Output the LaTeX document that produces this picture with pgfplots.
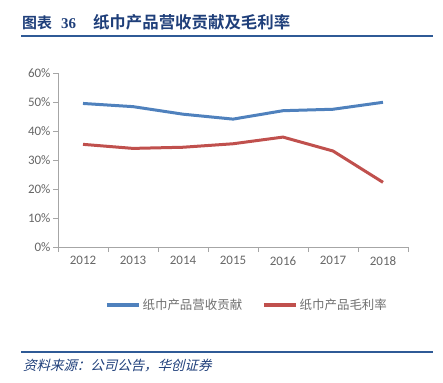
\documentclass[border=0pt]{standalone}
\usepackage{fontspec}
\setmainfont{Carlito}
\newfontfamily\cjk{Noto Sans CJK SC}
\newfontfamily\cjkb{Noto Sans CJK SC Bold}
\newfontfamily\cjkit[FakeSlant=0.25]{Noto Sans CJK SC}
\newfontfamily\serifb{Liberation Serif}
\usepackage{pgfplots}
\pgfplotsset{compat=1.18}
\definecolor{sblue}{HTML}{4F81BD}
\definecolor{sred}{HTML}{C0504D}
\definecolor{titleblue}{HTML}{1F3F7A}
\definecolor{lineblue}{HTML}{2F5A96}
\definecolor{tickgray}{HTML}{666666}
\definecolor{leggray}{HTML}{707070}
\definecolor{axgray}{HTML}{A6A6A6}
\begin{document}
\begin{tikzpicture}[x=1bp,y=1bp]
\path[use as bounding box] (0,0) rectangle (443,382);
\draw[lineblue, line width=1.6bp] (21,346) -- (433,346);
\draw[lineblue, line width=1.6bp] (21,30) -- (433,30);
\node[anchor=west, inner sep=0pt, text=titleblue] at (22,360)
  {\fontsize{15}{15}\selectfont\cjkb 图表\hspace{9bp}{\serifb\bfseries 36}\hspace{17bp}\fontsize{16.5}{16}\selectfont 纸巾产品营收贡献及毛利率};
\node[anchor=west, inner sep=0pt, text=titleblue] at (23,16)
  {\fontsize{13.5}{14}\selectfont\cjkit 资料来源：公司公告，华创证券};
\begin{axis}[
  at={(58bp,135bp)}, anchor=south west,
  width=350bp, height=174bp, scale only axis,
  xmin=-0.5, xmax=6.5, ymin=0, ymax=60,
  axis x line*=bottom, axis y line*=left,
  axis line style={axgray, line width=0.8bp, -},
  xtick={0,...,6},
  xticklabels={2012,2013,2014,2015,2016,2017,2018},
  major x tick style={draw=none},
  minor xtick={-0.5,0.5,...,6.5},
  minor x tick style={axgray, line width=0.8bp},
  minor tick length=5bp,
  ytick={0,10,...,60},
  y tick style={axgray, line width=0.8bp},
  major tick length=5bp,
  tick align=outside,
  yticklabel={\pgfmathprintnumber{\tick}\%},
  /pgf/number format/assume math mode=true,
  ticklabel style={font=\fontsize{13}{13}\selectfont, text=tickgray},
  xticklabel style={yshift=-1bp},
  yticklabel style={xshift=1bp},
  legend style={draw=none, at={(0.54,-0.333)}, anchor=center,
    legend columns=2, font=\fontsize{12.5}{13}\selectfont\cjk, text=leggray,
    /tikz/every even column/.append style={column sep=18bp},
    inner sep=0pt},
  legend image code/.code={\draw[#1, line width=3.5bp] (0bp,0bp) -- (32bp,0bp);},
  clip=false,
]
\addplot[sblue, line width=3bp] coordinates {(0,49.5) (1,48.4) (2,45.8) (3,44.1) (4,47.0) (5,47.5) (6,49.9)};
\addlegendentry{纸巾产品营收贡献}
\addplot[sred, line width=3bp] coordinates {(0,35.4) (1,34.0) (2,34.4) (3,35.6) (4,37.9) (5,33.1) (6,22.3)};
\addlegendentry{纸巾产品毛利率}
\end{axis}
\end{tikzpicture}
\end{document}
